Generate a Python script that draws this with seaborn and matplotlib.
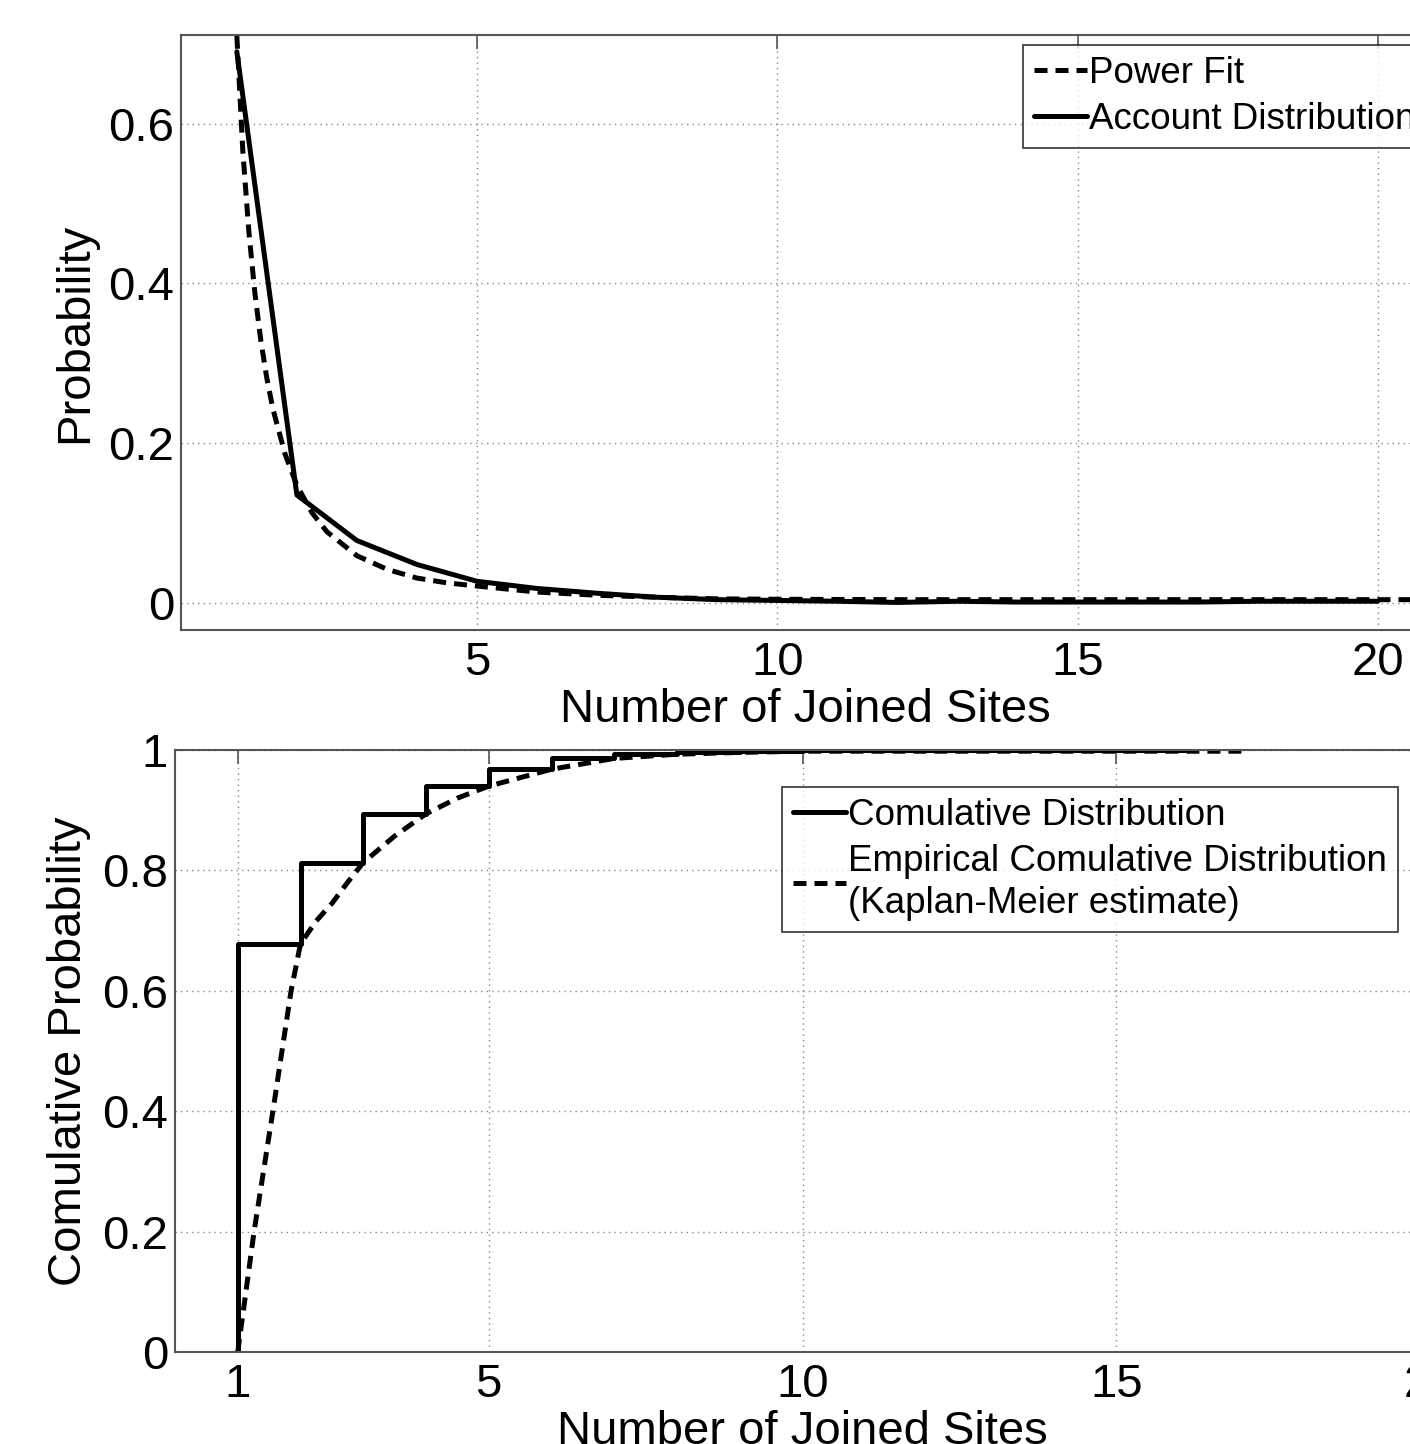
import numpy as np
import pandas as pd
import seaborn as sns
import matplotlib
matplotlib.use("Agg")
import matplotlib.pyplot as plt

sns.set_style("white")
plt.rcParams['font.family'] = ['Liberation Sans', 'DejaVu Sans']
plt.rcParams['text.color'] = 'black'
plt.rcParams['axes.labelcolor'] = 'black'
plt.rcParams['xtick.color'] = 'black'
plt.rcParams['ytick.color'] = 'black'

# top panel: account distribution (solid) and power fit (dashed)
sites = [1, 2, 3, 4, 5, 6, 7, 8, 9, 10, 11, 12, 13, 14, 15, 16, 17, 18, 19, 20]
account_prob = [0.69, 0.135, 0.078, 0.048, 0.027, 0.018, 0.012, 0.007, 0.004, 0.003,
                0.002, 0.0005, 0.002, 0.001, 0.001, 0.001, 0.001, 0.002, 0.002, 0.002]
fit_x = [1, 1.1, 1.2, 1.3, 1.4, 1.5, 1.6, 1.8, 2, 2.25, 2.5, 3, 3.5, 4, 4.5, 5,
         6, 7, 8, 9, 10, 12, 14, 16, 18, 21]
fit_prob = [0.71, 0.565, 0.465, 0.388, 0.328, 0.281, 0.243, 0.187, 0.147, 0.113,
            0.089, 0.059, 0.042, 0.031, 0.025, 0.021, 0.0135, 0.0095, 0.007, 0.005,
            0.0045, 0.004, 0.004, 0.004, 0.004, 0.004]

# bottom panel: step cdf (solid) and Kaplan-Meier estimate (dashed)
cdf_x = [1, 1, 2, 3, 4, 5, 6, 7, 8, 9, 10, 16.1]
cdf_y = [0, 0.678, 0.813, 0.894, 0.940, 0.968, 0.986, 0.994, 0.997, 0.999, 1.0, 1.0]
km_x = [1, 1.26, 1.56, 1.85, 2, 2.25, 2.5, 2.75, 3, 3.5, 4, 4.5, 5, 6, 7, 8, 9, 10,
        12, 14, 17]
km_y = [0, 0.2, 0.4, 0.6, 0.678, 0.716, 0.745, 0.78, 0.813, 0.857, 0.894, 0.92,
        0.94, 0.968, 0.986, 0.993, 0.996, 0.998, 0.998, 0.998, 0.998]

W, H = 1410, 1444
fig = plt.figure(figsize=(W / 100, H / 100), dpi=100)
ax1 = fig.add_axes([181 / W, 1 - 630 / H, (1430 - 181) / W, (630 - 35) / H])
ax2 = fig.add_axes([175 / W, 1 - 1352 / H, (1430 - 175) / W, (1352 - 750) / H])

dash = (0, (2.6, 1.6))
lw = 3.6

sns.lineplot(x=fit_x, y=fit_prob, ax=ax1, color='black', lw=lw, linestyle=dash,
             label='Power Fit', estimator=None, sort=False)
sns.lineplot(x=sites, y=account_prob, ax=ax1, color='black', lw=lw,
             label='Account Distribution', estimator=None, sort=False)

sns.lineplot(x=cdf_x, y=cdf_y, ax=ax2, color='black', lw=lw, drawstyle='steps-post',
             label='Comulative Distribution', estimator=None, sort=False)
sns.lineplot(x=km_x, y=km_y, ax=ax2, color='black', lw=lw, linestyle=dash,
             label='Empirical Comulative Distribution\n(Kaplan-Meier estimate)',
             estimator=None, sort=False)

ax1.set_xlim(0.07, 20.87)
ax1.set_ylim(-0.034, 0.711)
ax1.set_xticks([5, 10, 15, 20])
ax1.set_yticks([0, 0.2, 0.4, 0.6])
ax1.set_yticklabels(['0', '0.2', '0.4', '0.6'])

ax2.set_xlim(0, 20)
ax2.set_ylim(0, 1)
ax2.set_xticks([1, 5, 10, 15, 20])
ax2.set_yticks([0, 0.2, 0.4, 0.6, 0.8, 1])
ax2.set_yticklabels(['0', '0.2', '0.4', '0.6', '0.8', '1'])

for ax in (ax1, ax2):
    ax.set_axisbelow(True)
    ax.grid(True, linestyle=(0, (1, 3)), color='#888888', lw=1)
    ax.tick_params(labelsize=34, direction='in', length=10, width=1.2,
                   color='#555555', labelcolor='black', top=True, right=True, pad=8)
    ax.tick_params(axis='y', pad=5)
    for s in ax.spines.values():
        s.set_color('#555555')
        s.set_linewidth(1.5)
    ax.set_xlabel('Number of Joined Sites', fontsize=34, labelpad=2)

ax1.set_ylabel('Probability', fontsize=34, labelpad=8)
ax2.set_ylabel('Comulative Probability', fontsize=34, labelpad=8)

leg_kw = dict(fontsize=26.5, frameon=True, fancybox=False, edgecolor='black',
              handlelength=1.45, handletextpad=0.05, borderpad=0.3,
              labelspacing=0.3, borderaxespad=0, loc='upper left',
              bbox_transform=fig.transFigure)
l1 = ax1.legend(bbox_to_anchor=(1023 / W, 1 - 45 / H), **leg_kw)
l2 = ax2.legend(bbox_to_anchor=(782 / W, 1 - 787 / H), **leg_kw)
for l in (l1, l2):
    l.get_frame().set_linewidth(1.2)
    for t in l.get_texts():
        t.set_linespacing(1.25)

fig.savefig('out.png', dpi=100)
